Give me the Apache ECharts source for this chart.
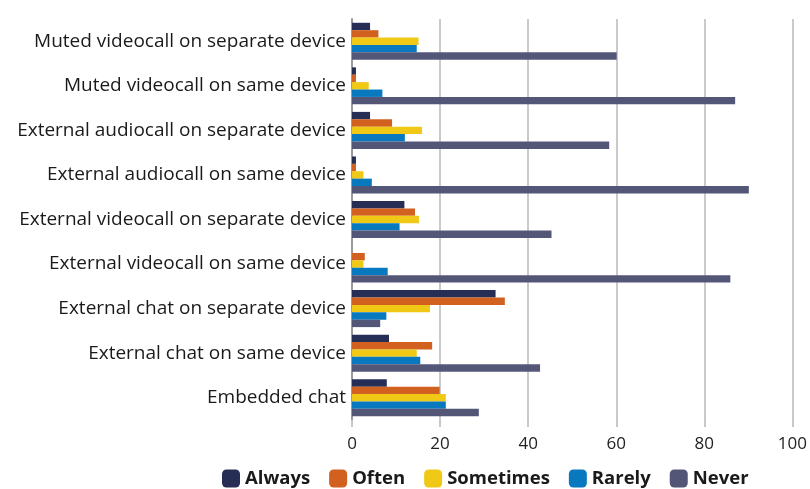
<!DOCTYPE html>
<html>
<head>
<meta charset="utf-8">
<script src="https://cdn.jsdelivr.net/npm/echarts@6/dist/echarts.min.js"></script>
<style>
  html, body { margin: 0; padding: 0; background: #ffffff; }
  #chart { width: 810px; height: 489px; }
</style>
</head>
<body>
<div id="chart"></div>
<script>
// Scenarios, listed bottom to top as the category axis draws them
const categories = [
  'Embedded chat',
  'External chat on same device',
  'External chat on separate device',
  'External videocall on same device',
  'External videocall on separate device',
  'External audiocall on same device',
  'External audiocall on separate device',
  'Muted videocall on same device',
  'Muted videocall on separate device'
];

// Share of responses (%) per frequency, same order as categories
const always    = [7.9, 8.4, 32.6, 0,    11.9, 0.9,  4.1, 0.9,  4.1];
const often     = [19.9, 18.2, 34.7, 2.9, 14.3, 0.9,  9.1, 0.9,  6.0];
const sometimes = [21.3, 14.7, 17.7, 2.6, 15.2, 2.6, 15.9, 3.8, 15.1];
const rarely    = [21.3, 15.5, 7.8, 8.1,  10.8, 4.5, 12.0, 6.9, 14.7];
const never     = [28.8, 42.7, 6.4, 85.9, 45.3, 90.1, 58.4, 87.0, 60.1];

const xTicks = [0, 20, 40, 60, 80, 100];

const seriesNames = ['Always', 'Often', 'Sometimes', 'Rarely', 'Never'];
const seriesData = [always, often, sometimes, rarely, never];
const colors = ['#262e55', '#d2601f', '#f0c816', '#0879bf', '#545678'];

const chart = echarts.init(document.getElementById('chart'), null, { renderer: 'canvas' });

chart.setOption({
  animation: false,
  color: colors,
  grid: { left: 352, right: 16, top: 19, bottom: 69, containLabel: false },
  legend: {
    top: 469,
    left: 222,
    padding: 0,
    itemWidth: 18,
    itemHeight: 18,
    itemGap: 19,
    icon: 'roundRect',
    data: seriesNames,
    textStyle: {
      fontFamily: 'Open Sans',
      fontWeight: 'bold',
      fontSize: 18.5,
      color: '#1a1a1a'
    }
  },
  xAxis: {
    type: 'value',
    min: xTicks[0],
    max: xTicks[xTicks.length - 1],
    interval: 20,
    axisLine: { show: false },
    axisTick: { show: true, length: 7, lineStyle: { color: '#c8c8c8', width: 2 } },
    splitLine: { show: true, lineStyle: { color: '#cacaca', width: 2 } },
    axisLabel: {
      margin: 16,
      fontFamily: 'Open Sans',
      fontSize: 17,
      color: '#222'
    }
  },
  yAxis: {
    type: 'category',
    data: categories,
    axisLine: { show: true, lineStyle: { color: '#9a9a9a', width: 2 } },
    axisTick: { show: false },
    axisLabel: {
      margin: 6,
      fontFamily: 'Open Sans',
      fontSize: 19,
      color: '#1a1a1a'
    }
  },
  series: seriesNames.map((name, i) => ({
    name: name,
    type: 'bar',
    data: seriesData[i],
    barGap: '0%',
    barCategoryGap: '17%',
    itemStyle: { color: colors[i] }
  }))
});
</script>
</body>
</html>
